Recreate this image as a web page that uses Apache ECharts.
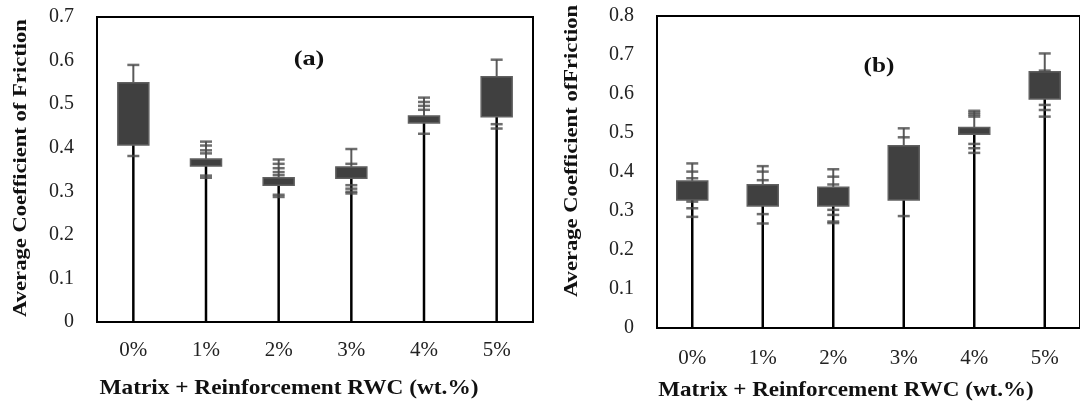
<!DOCTYPE html>
<html>
<head>
<meta charset="utf-8">
<script src="https://cdn.jsdelivr.net/npm/echarts@6/dist/echarts.min.js"></script>
<style>
  html, body { margin: 0; padding: 0; background: #fff; }
  #chart { width: 1080px; height: 401px; }
</style>
</head>
<body>
<div id="chart"></div>
<script>
var categories = ['0%', '1%', '2%', '3%', '4%', '5%'];

// panel (a)
var boxLowA = [0.406, 0.358, 0.314, 0.330, 0.457, 0.471];
var boxHighA = [0.549, 0.374, 0.331, 0.356, 0.473, 0.563];
var whiskerTopA = [0.590, 0.414, 0.373, 0.397, 0.515, 0.602];
var marksA = [
  [0.590, 0.381],
  [0.414, 0.405, 0.394, 0.387, 0.336, 0.331],
  [0.373, 0.363, 0.353, 0.344, 0.337, 0.292, 0.287],
  [0.397, 0.363, 0.314, 0.306, 0.299, 0.295],
  [0.515, 0.505, 0.496, 0.487, 0.432],
  [0.602, 0.454, 0.444]
];

// panel (b)
var boxLowB = [0.328, 0.313, 0.313, 0.328, 0.497, 0.587];
var boxHighB = [0.377, 0.367, 0.361, 0.467, 0.514, 0.657];
var whiskerTopB = [0.422, 0.415, 0.407, 0.512, 0.557, 0.704];
var marksB = [
  [0.422, 0.401, 0.384, 0.324, 0.307, 0.285],
  [0.415, 0.401, 0.379, 0.292, 0.268],
  [0.407, 0.388, 0.368, 0.303, 0.290, 0.273, 0.269],
  [0.512, 0.489, 0.287],
  [0.557, 0.552, 0.547, 0.542, 0.472, 0.461, 0.449],
  [0.704, 0.660, 0.572, 0.559, 0.542]
];

var serif = 'Liberation Serif';

function renderBox(params, api) {
  var i = api.value(0);
  var p0 = api.coord([i, 0]);
  var p1 = api.coord([i, api.value(1)]);
  var p2 = api.coord([i, api.value(2)]);
  var p3 = api.coord([i, api.value(3)]);
  var w = 31;
  return {
    type: 'group',
    children: [
      { type: 'line', shape: { x1: p3[0], y1: p3[1], x2: p2[0], y2: p2[1] }, style: { stroke: '#5a5a5a', lineWidth: 2 } },
      { type: 'line', shape: { x1: p0[0], y1: p0[1], x2: p1[0], y2: p1[1] }, style: { stroke: '#000', lineWidth: 2.5 } },
      { type: 'rect', shape: { x: p2[0] - w / 2, y: p2[1], width: w, height: p1[1] - p2[1] },
        style: { fill: '#404040', stroke: '#606060', lineWidth: 1.5 } }
    ]
  };
}

function boxData(low, high, top) {
  return low.map(function (v, i) { return [i, v, high[i], top[i]]; });
}

function markData(marks) {
  var out = [];
  marks.forEach(function (list, i) {
    list.forEach(function (v) { out.push([i, v]); });
  });
  return out;
}

function xAxisOf(idx, margin) {
  return {
    type: 'category', gridIndex: idx, data: categories,
    axisTick: { show: false },
    axisLine: { lineStyle: { color: '#000', width: 2 } },
    axisLabel: { color: '#222', fontFamily: serif, fontSize: 21, margin: margin }
  };
}

function yAxisOf(idx, max) {
  return {
    type: 'value', gridIndex: idx, min: 0, max: max, interval: 0.1,
    splitLine: { show: false },
    axisTick: { show: false },
    axisLine: { show: true, lineStyle: { color: '#000', width: 2 } },
    axisLabel: {
      color: '#222', fontFamily: serif, fontSize: 20, margin: 23,
      formatter: function (v) { return v === 0 ? '0' : v.toFixed(1); }
    }
  };
}

function textEl(x, y, text, size, sx, rotate) {
  return {
    type: 'text', x: x, y: y, scaleX: sx, rotation: rotate ? Math.PI / 2 : 0,
    style: { text: text, font: 'bold ' + size + 'px "' + serif + '"', fill: '#111', align: 'center', verticalAlign: 'middle' }
  };
}

var chart = echarts.init(document.getElementById('chart'));
chart.setOption({
  animation: false,
  backgroundColor: '#fff',
  grid: [
    { left: 97, top: 17, width: 436, height: 305, show: true, borderColor: '#000', borderWidth: 2 },
    { left: 657, top: 16, width: 436, height: 312, show: true, borderColor: '#000', borderWidth: 2 }
  ],
  xAxis: [xAxisOf(0, 18), xAxisOf(1, 20)],
  yAxis: [yAxisOf(0, 0.7), yAxisOf(1, 0.8)],
  graphic: [
    textEl(21, 168, 'Average Coefficient of Friction', 19, 1.19, true),
    textEl(572, 151, 'Average Coefficient ofFriction', 19, 1.19, true),
    textEl(289, 389, 'Matrix + Reinforcement RWC (wt.%)', 21, 1.11, false),
    textEl(846, 391, 'Matrix + Reinforcement RWC (wt.%)', 21, 1.1, false),
    textEl(309, 60, '(a)', 21, 1.25, false),
    textEl(879, 67, '(b)', 21, 1.2, false)
  ],
  series: [
    { type: 'custom', xAxisIndex: 0, yAxisIndex: 0, renderItem: renderBox, data: boxData(boxLowA, boxHighA, whiskerTopA) },
    { type: 'scatter', xAxisIndex: 0, yAxisIndex: 0, symbol: 'rect', symbolSize: [12, 2.5],
      itemStyle: { color: '#4a4a4a' }, data: markData(marksA) },
    { type: 'custom', xAxisIndex: 1, yAxisIndex: 1, renderItem: renderBox, data: boxData(boxLowB, boxHighB, whiskerTopB) },
    { type: 'scatter', xAxisIndex: 1, yAxisIndex: 1, symbol: 'rect', symbolSize: [12, 2.5],
      itemStyle: { color: '#4a4a4a' }, data: markData(marksB) }
  ]
});
</script>
</body>
</html>
